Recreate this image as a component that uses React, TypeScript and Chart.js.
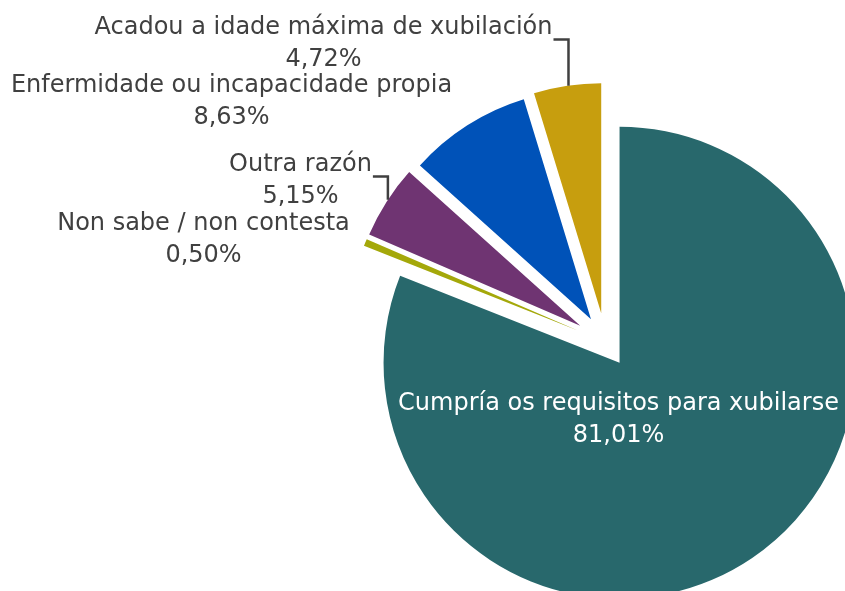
import React, { useEffect, useRef } from "react";
import { Chart, registerables } from "chart.js";

Chart.register(...registerables);

// ---- data ----
const categories = [
  "Cumpría os requisitos para xubilarse",
  "Non sabe / non contesta",
  "Outra razón",
  "Enfermidade ou incapacidade propia",
  "Acadou a idade máxima de xubilación",
];
const values = [81.01, 0.5, 5.15, 8.63, 4.72];

// ---- style ----
const colors = ["#28686C", "#A4A80A", "#6F3472", "#0052B8", "#C79E0E"];
const explode = [25, 30, 30, 27, 29];
const radii = [236, 230, 230, 230, 230];
// label line-1 baseline relative to chart centre
const labelPos = [
  [13, 68],
  [-402, -112],
  [-305, -171],
  [-374, -250],
  [-282, -308],
];
const labelColor = ["#FFFFFF", "#404040", "#404040", "#404040", "#404040"];
const leader = [false, false, true, false, true];
const LINE_GAP = 32;
const FONT = '24px "DejaVu Sans", Verdana, sans-serif';

const fmt = (v: number) => v.toFixed(2).replace(".", ",") + "%";

const explodePlugin = {
  id: "explode",
  afterDatasetUpdate(chart: any, args: any) {
    const meta = args.meta;
    const ca = chart.chartArea;
    const cx = (ca.left + ca.right) / 2;
    const cy = (ca.top + ca.bottom) / 2;
    meta.data.forEach((arc: any, i: number) => {
      const mid = (arc.startAngle + arc.endAngle) / 2;
      arc.x = cx + explode[i] * Math.cos(mid);
      arc.y = cy + explode[i] * Math.sin(mid);
      arc.outerRadius = radii[i];
    });
  },
};

const labelPlugin = {
  id: "pieLabels",
  afterDraw(chart: any) {
    const ctx = chart.ctx;
    const ca = chart.chartArea;
    const cx = (ca.left + ca.right) / 2;
    const cy = (ca.top + ca.bottom) / 2;
    const meta = chart.getDatasetMeta(0);
    ctx.save();
    ctx.font = FONT;
    ctx.textAlign = "center";
    ctx.textBaseline = "alphabetic";
    categories.forEach((name, i) => {
      const x = cx + labelPos[i][0];
      const y = cy + labelPos[i][1];
      ctx.fillStyle = labelColor[i];
      ctx.fillText(name, x, y);
      ctx.fillText(fmt(values[i]), x, y + LINE_GAP);
      if (leader[i]) {
        const arc = meta.data[i];
        const w = ctx.measureText(name).width;
        const x0 = x + w / 2 + 1;
        const x1 = x + w / 2 + 16;
        const ly = y + 5.5;
        const dx = x1 - arc.x;
        const r = arc.outerRadius;
        const ey = arc.y - Math.sqrt(Math.max(r * r - dx * dx, 0));
        ctx.strokeStyle = "#404040";
        ctx.lineWidth = 2.5;
        ctx.beginPath();
        ctx.moveTo(x0, ly);
        ctx.lineTo(x1, ly);
        ctx.lineTo(x1, ey);
        ctx.stroke();
      }
    });
    ctx.restore();
  },
};

export default function App() {
  const ref = useRef<HTMLCanvasElement | null>(null);
  useEffect(() => {
    if (!ref.current) return;
    const chart = new Chart(ref.current, {
      type: "pie",
      data: {
        labels: categories,
        datasets: [
          {
            data: values,
            backgroundColor: colors,
            borderWidth: 0,
          },
        ],
      },
      options: {
        responsive: false,
        animation: false,
        radius: 232,
        layout: { padding: 0 },
        plugins: {
          legend: { display: false },
          tooltip: { enabled: false },
        },
        events: [],
      } as any,
      plugins: [explodePlugin, labelPlugin],
    });
    return () => chart.destroy();
  }, []);
  return (
    <div
      style={{
        position: "fixed",
        left: 0,
        top: 0,
        width: 845,
        height: 591,
        overflow: "hidden",
        background: "#fff",
      }}
    >
      <canvas
        ref={ref}
        width={1211}
        height={684}
        style={{ width: 1211, height: 684, display: "block" }}
      />
    </div>
  );
}
